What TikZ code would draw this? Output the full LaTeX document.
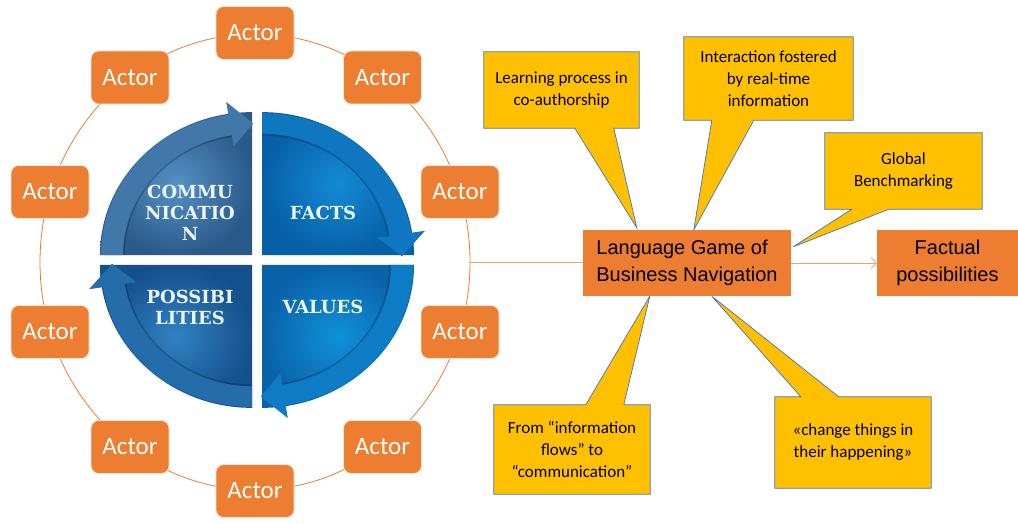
\documentclass[tikz,border=0pt]{standalone}
\usepackage{fontspec}
\usepackage{xcolor}
\usetikzlibrary{positioning}
\usetikzlibrary{calc}
\usetikzlibrary{arrows.meta}
\newfontfamily\actorfont{Carlito}
\newfontfamily\gamefont{Liberation Sans}
\newfontfamily\quadfont{DejaVu Serif}
\definecolor{actorOrange}{RGB}{237,125,49}
\definecolor{lineOrange}{RGB}{243,160,110}
\definecolor{noteYellow}{RGB}{255,192,0}
\definecolor{noteBorder}{RGB}{68,114,196}
\definecolor{quadText}{RGB}{236,243,250}
\definecolor{quadULIn}{RGB}{85,145,195}
\definecolor{quadULOut}{RGB}{42,90,138}
\definecolor{quadURIn}{RGB}{20,138,212}
\definecolor{quadUROut}{RGB}{6,96,166}
\definecolor{quadLRIn}{RGB}{16,145,218}
\definecolor{quadLROut}{RGB}{10,98,168}
\definecolor{quadLLIn}{RGB}{50,130,194}
\definecolor{quadLLOut}{RGB}{20,80,140}
\pgfdeclarelayer{background}
\pgfsetlayers{background,main}

\tikzset{
  actor/.style={rectangle, rounded corners=8pt, fill=actorOrange,
    draw=white!80!actorOrange, line width=0.6pt, minimum width=78pt,
    minimum height=53pt, inner sep=0pt, text=white,
    font=\actorfont\fontsize{25}{28}\selectfont},
  game/.style={rectangle, fill=actorOrange, minimum height=66pt, inner sep=0pt,
    font=\gamefont\fontsize{20}{27}\selectfont},
  note/.style={rectangle, inner sep=0pt, align=center,
    font=\actorfont\fontsize{17}{22}\selectfont},
  noteline/.style={fill=noteYellow, draw=noteBorder, line width=0.7pt, line join=miter},
  quadlabel/.style={text=quadText, align=center, font=\quadfont\bfseries\fontsize{18}{21}\selectfont},
}

\begin{document}
\begin{tikzpicture}[x=1pt,y=1pt]
\useasboundingbox (0,0) rectangle (1018,523);

% ring of actors
\draw [actorOrange, line width=0.8pt] (255,261) ellipse [x radius=215, y radius=228];
\coordinate (ringE) at (470,261);

\node [actor] (actN)   at (255,490)   {Actor};
\node [actor] (actNW)  at (130,445.5) {Actor};
\node [actor] (actNE)  at (382.5,445.5) {Actor};
\node [actor] (actWN)  at (50,331)    {Actor};
\node [actor] (actEN)  at (460,331)   {Actor};
\node [actor] (actWS)  at (50,191)    {Actor};
\node [actor] (actES)  at (460,191)   {Actor};
\node [actor] (actSW)  at (130,76)    {Actor};
\node [actor] (actSE)  at (382.5,76)  {Actor};
\node [actor] (actS)   at (255,32)    {Actor};

% four quarters, each with its arrow band
\begin{scope}[shift={(257,263)}, yscale=0.94]
\foreach \dx/\dy/\a/\qc in {-5/5.3/90/quadUL, 5/5.3/0/quadUR, 5/-5.3/-90/quadLR, -5/-5.3/180/quadLL}{
  \coordinate (qc) at (\dx,\dy);
  \shade [inner color=\qc In, outer color=\qc Out]
    (qc) -- ++(\a:152) arc [start angle=\a, end angle=\a+90, radius=152] -- cycle;
  % band
  \fill [\qc In!55!\qc Out]
    ($(qc)+(\a+8:129)$) arc [start angle=\a+8, end angle=\a+90, radius=129]
    -- ($(qc)+(\a+90:151)$) arc [start angle=\a+90, end angle=\a+8, radius=151] -- cycle;
  \draw [black, opacity=0.22, line width=1.5pt]
    ($(qc)+(\a+8:128)$) arc [start angle=\a+8, end angle=\a+90, radius=128];
  % arrowhead
  \fill [\qc In!55!\qc Out]
    ($(qc)+(\a+9:117)$) -- ($(qc)+(\a-0.5:140)$) -- ($(qc)+(\a+9:165)$) -- cycle;
}
\end{scope}

\node [quadlabel] (comm) at (190,310) {COMMU\\NICATIO\\N};
\node [quadlabel] (facts) at (323,310) {FACTS};
\node [quadlabel] (vals) at (323,216) {VALUES};
\node [quadlabel] (poss) at (190,216) {POSSIBI\\LITIES};

% language game
\node [game, minimum width=208pt, align=left] (lang) at (687,260) {Language Game of\\Business Navigation};
\node [game, minimum width=141pt, align=center] (fact) at (947.5,260) {Factual\\possibilities};
\draw [lineOrange, line width=0.8pt] (ringE) -- (ringE -| lang.west);
\draw [lineOrange, line width=0.8pt, -{Straight Barb[length=5pt,width=11pt]}] (lang.east) -- (fact.west);

\coordinate (tipLearn) at ([xshift=54pt,yshift=2pt]lang.north west);
\coordinate (tipInter) at ([xshift=111pt]lang.north west);
\coordinate (tipBench) at ([xshift=2pt,yshift=-17pt]lang.north east);
\coordinate (tipFlows) at ([xshift=67pt]lang.south west);
\coordinate (tipChange) at ([xshift=129pt]lang.south west);

% callouts
\node [note, minimum width=155pt, minimum height=76pt] (learn) at (561.5,433) {Learning process in\\co-authorship};
\node [note, minimum width=169pt, minimum height=83pt] (inter) at (768.5,444.5) {Interaction fostered\\by real-time\\information};
\node [note, minimum width=157pt, minimum height=76pt] (bench) at (903.5,352) {Global\\Benchmarking};
\node [note, minimum width=156pt, minimum height=89pt] (flows) at (572,73.5) {From “information\\flows” to\\“communication”};
\node [note, minimum width=156pt, minimum height=91pt] (change) at (853,80.5) {«change things in\\their happening»};

\begin{pgfonlayer}{background}
\draw [noteline] (learn.north west) -- (learn.north east) -- (learn.south east)
  -- ([xshift=130pt]learn.south west) -- (tipLearn) -- ([xshift=91pt]learn.south west)
  -- (learn.south west) -- cycle;
\draw [noteline] (inter.north west) -- (inter.north east) -- (inter.south east)
  -- ([xshift=70pt]inter.south west) -- (tipInter) -- ([xshift=28pt]inter.south west)
  -- (inter.south west) -- cycle;
\draw [noteline] (bench.north west) -- (bench.north east) -- (bench.south east)
  -- ([xshift=64pt]bench.south west) -- (tipBench) -- ([xshift=27pt]bench.south west)
  -- (bench.south west) -- cycle;
\draw [noteline] (flows.north west) -- ([xshift=92pt]flows.north west) -- (tipFlows)
  -- ([xshift=130pt]flows.north west) -- (flows.north east) -- (flows.south east)
  -- (flows.south west) -- cycle;
\draw [noteline] (change.north west) -- ([xshift=26pt]change.north west) -- (tipChange)
  -- ([xshift=64pt]change.north west) -- (change.north east) -- (change.south east)
  -- (change.south west) -- cycle;
\end{pgfonlayer}
\end{tikzpicture}
\end{document}
